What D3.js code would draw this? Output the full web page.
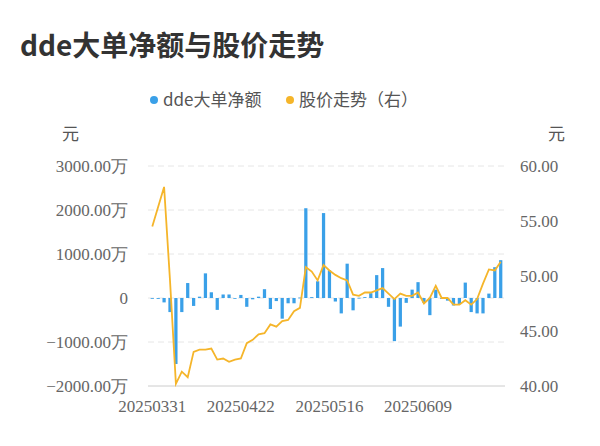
<!DOCTYPE html>
<html><head><meta charset="utf-8">
<script src="https://cdn.jsdelivr.net/npm/d3@7"></script>
<style>body{margin:0;background:#fff} .num{font-family:"Liberation Serif","Times New Roman",serif}</style>
</head><body><svg id="c" width="600" height="446"></svg>
<script>
// data
let dates = ["20250331","20250401","20250402","20250403","20250407","20250408","20250409","20250410","20250411","20250414",
  "20250415","20250416","20250417","20250418","20250421","20250422","20250423","20250424","20250425","20250428",
  "20250429","20250430","20250506","20250507","20250508","20250509","20250512","20250513","20250514","20250515",
  "20250516","20250519","20250520","20250521","20250522","20250523","20250526","20250527","20250528","20250529",
  "20250530","20250603","20250604","20250605","20250606","20250609","20250610","20250611","20250612","20250613",
  "20250616","20250617","20250618","20250619","20250620","20250623","20250624","20250625","20250626","20250627"];
let dde = [0,-20,-100,-320,-1500,-320,340,-180,30,560,
  130,-270,80,80,0,70,-200,-30,30,200,
  -250,-70,-470,-120,-120,10,2040,20,380,1930,
  630,-80,-350,780,-280,5,20,110,520,680,
  -200,-980,-650,-110,190,360,-110,-390,190,0,
  -60,-170,-140,350,-320,-350,-350,100,700,860];
let price = [54.5,56.3,58.1,49.6,40.2,41.3,40.8,43.1,43.3,43.3,
  43.4,42.4,42.5,42.2,42.4,42.5,43.9,44.2,44.7,44.8,
  45.6,45.4,45.9,46.0,46.8,47.1,50.8,50.4,49.6,51.0,
  50.5,50.1,49.8,49.6,48.3,48.2,48.5,48.5,48.7,48.9,
  48.4,47.9,48.4,48.2,48.2,48.5,47.5,48.0,49.1,48.0,
  48.0,47.4,47.4,47.8,47.4,47.9,49.3,50.6,50.5,51.3];
let leftTicks = [3000,2000,1000,0,-1000,-2000];
let rightTicks = [60,55,50,45,40];

const svg = d3.select("#c");
const L = 148, R = 505, T = 166, B = 386;

let x = d3.scaleBand().domain(dates).range([L, R]).padding(0.45);
let yL = d3.scaleLinear().domain([-2000, 3000]).range([B, T]);
let yR = d3.scaleLinear().domain([40, 60]).range([B, T]);

// title + legend
svg.append("text").attr("x", 20).attr("y", 56).text("dde大单净额与股价走势")
  .attr("font-family", "'Noto Sans CJK SC'").attr("font-weight", "bold").attr("font-size", 28).attr("fill", "#333");
let lg = svg.append("g").attr("font-family", "'Noto Sans CJK SC'").attr("font-size", 17).attr("fill", "#555");
lg.append("circle").attr("cx", 154).attr("cy", 100).attr("r", 4).attr("fill", "#3aa0e8");
lg.append("text").attr("x", 163).attr("y", 106).text("dde大单净额");
lg.append("circle").attr("cx", 290).attr("cy", 100).attr("r", 4).attr("fill", "#f5b52a");
lg.append("text").attr("x", 299).attr("y", 106).text("股价走势（右）");

svg.append("text").attr("x", 62).attr("y", 140).text("元").attr("font-size", 17).attr("fill", "#555").attr("font-family", "'Noto Sans CJK SC'");
svg.append("text").attr("x", 548).attr("y", 140).text("元").attr("font-size", 17).attr("fill", "#555").attr("font-family", "'Noto Sans CJK SC'");

// grid
svg.selectAll(".grid").data(leftTicks).join("line")
  .attr("x1", L).attr("x2", R).attr("y1", d => yL(d)).attr("y2", d => yL(d))
  .attr("stroke", d => d === -2000 ? "#ccc" : "#e6e6e6").attr("stroke-dasharray", d => d === -2000 ? null : "6,4");

// left ticks
svg.selectAll(".lt").data(leftTicks).join("text").attr("class", "num")
  .attr("x", 128).attr("y", d => yL(d) + 6).attr("text-anchor", "end")
  .attr("font-size", 17).attr("fill", "#666")
  .text(d => d === 0 ? "0" : d3.format(".2f")(d) + "万");
// right ticks
svg.selectAll(".rt").data(rightTicks).join("text").attr("class", "num")
  .attr("x", 520).attr("y", d => yR(d) + 6)
  .attr("font-size", 17).attr("fill", "#666")
  .text(d => d3.format(".2f")(d));
// x labels
svg.selectAll(".xt").data(dates.filter((d, i) => i % 15 === 0)).join("text").attr("class", "num")
  .attr("x", d => x(d) + x.bandwidth() / 2).attr("y", 412).attr("text-anchor", "middle")
  .attr("font-size", 17).attr("fill", "#666").text(d => d);

// bars
svg.selectAll(".bar").data(dde).join("rect")
  .attr("x", (d, i) => x(dates[i]))
  .attr("width", x.bandwidth())
  .attr("y", d => yL(Math.max(0, d)))
  .attr("height", d => Math.max(0.8, Math.abs(yL(d) - yL(0))))
  .attr("fill", "#3aa0e8");

// price line
let line = d3.line().x((d, i) => x(dates[i]) + x.bandwidth() / 2).y(d => yR(d));
svg.append("path").datum(price).attr("d", line)
  .attr("fill", "none").attr("stroke", "#f5b52a").attr("stroke-width", 1.8);
</script>
</body></html>
